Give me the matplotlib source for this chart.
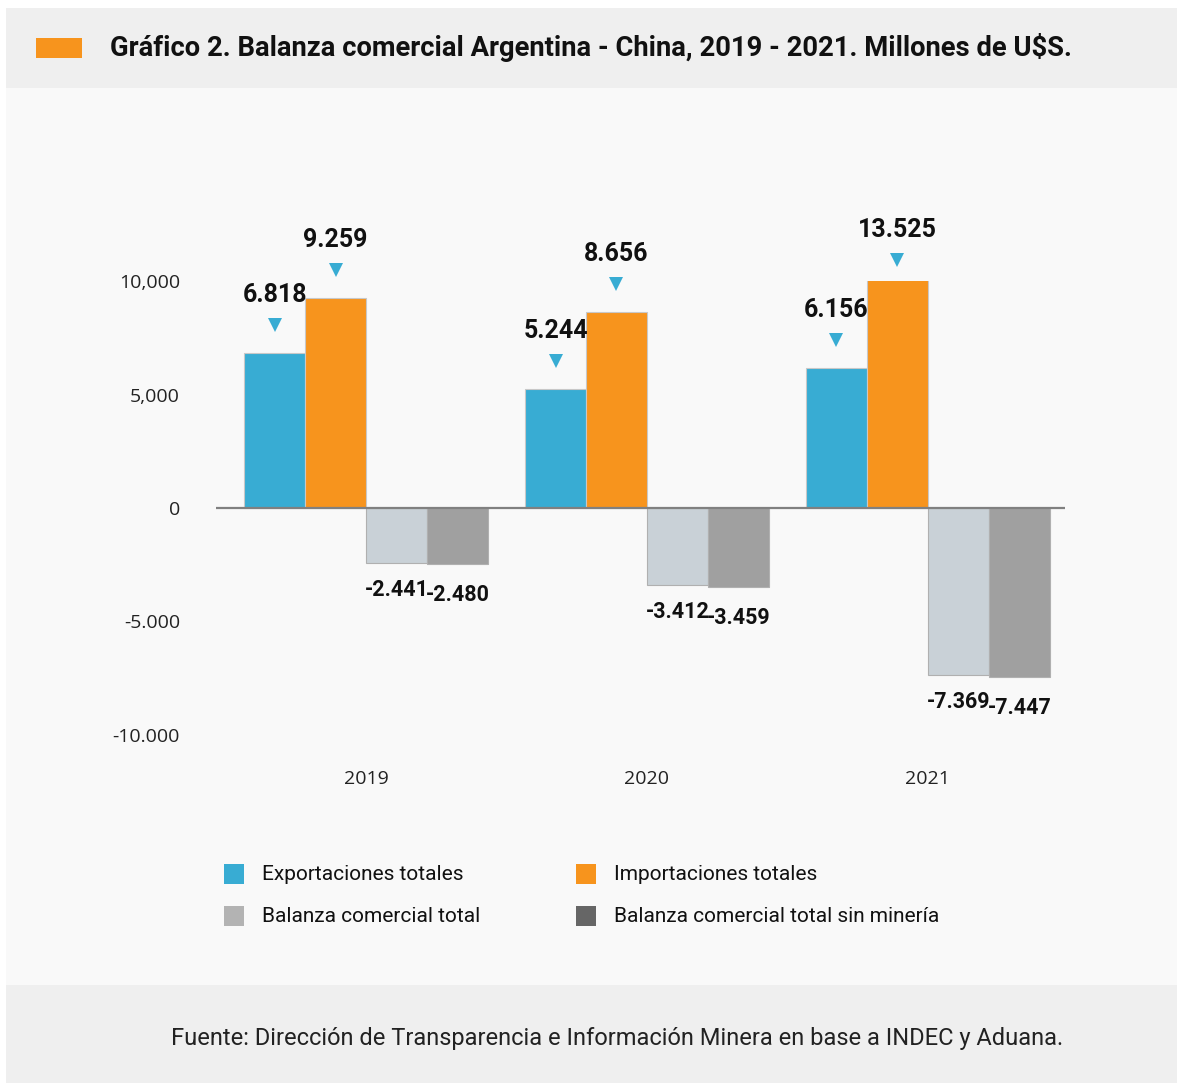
import matplotlib.pyplot as plt
import matplotlib.patches as mpatches
import matplotlib.transforms as mtransforms
import numpy as np

years = ["2019", "2020", "2021"]
exportaciones = [6818, 5244, 6156]
importaciones = [9259, 8656, 13525]
balanza = [-2441, -3412, -7369]
balanza_sin_mineria = [-2480, -3459, -7447]
label_export = ["6.818", "5.244", "6.156"]
label_import = ["9.259", "8.656", "13.525"]
label_balanza = ["-2.441", "-3.412", "-7.369"]
label_sin_min = ["-2.480", "-3.459", "-7.447"]
ytick_values = [10000, 5000, 0, -5000, -10000]
ytick_labels = ["10,000", "5,000", "0", "-5.000", "-10.000"]
series_names = ["Exportaciones totales", "Importaciones totales",
                "Balanza comercial total", "Balanza comercial total sin minería"]

blue = "#38acd3"
orange = "#f7941d"
light_grey = "#c9d1d7"
dark_grey = "#a0a0a0"
legend_colors = [blue, orange, "#b3b3b3", "#666666"]

W, H = 1177, 1085
fig = plt.figure(figsize=(W / 100, H / 100), dpi=100)
fig.patch.set_facecolor("white")

def fig_rect(x0, y0, x1, y1, color):
    # pixel coords from the top left
    fig.patches.append(mpatches.Rectangle((x0 / W, 1 - y1 / H), (x1 - x0) / W, (y1 - y0) / H,
                                          transform=fig.transFigure, facecolor=color,
                                          edgecolor="none", zorder=-10))

fig_rect(6, 8, W, 88, "#efefef")
fig_rect(6, 88, W, 985, "#f9f9f9")
fig_rect(6, 985, W, 1083, "#efefef")
fig_rect(36, 38, 82, 58, orange)

fig.text(110 / W, 1 - 47 / H, "Gráfico 2. Balanza comercial Argentina - China, 2019 - 2021. Millones de U$S.",
         fontsize=19.7, fontweight="bold", family=["Roboto", "DejaVu Sans"], color="#111111",
         va="center", ha="left")

fig.text(617 / W, 1 - 1038 / H, "Fuente: Dirección de Transparencia e Información Minera en base a INDEC y Aduana.",
         fontsize=17, family=["Roboto", "DejaVu Sans"], color="#222222",
         va="center", ha="center")

ax = fig.add_axes([216 / W, 1 - 735 / H, (1065 - 216) / W, (735 - 281) / H])
ax.set_facecolor("none")

x = np.arange(len(years))
w = 0.217
ax.bar(x - 1.5 * w, exportaciones, w, color=blue, edgecolor="#c8c8c8", linewidth=0.8)
ax.bar(x - 0.5 * w, importaciones, w, color=orange, edgecolor="#c8c8c8", linewidth=0.8)
ax.bar(x + 0.5 * w, balanza, w, color=light_grey, edgecolor="#b0b0b0", linewidth=0.8)
ax.bar(x + 1.5 * w, balanza_sin_mineria, w, color=dark_grey, edgecolor="#b0b0b0", linewidth=0.8)

ax.set_ylim(-10000, 10000)
ax.set_xlim(-0.534, 2.488)
ax.axhline(0, color="#808080", linewidth=1.6, zorder=3)

for s in ax.spines.values():
    s.set_visible(False)
ax.set_yticks(ytick_values)
ax.set_yticklabels(ytick_labels, fontsize=14, family=["Open Sans", "DejaVu Sans"], color="#222222")
ax.tick_params(axis="y", length=0, pad=26)
ax.set_xticks([])
for i, yr in enumerate(years):
    ax.annotate(yr, (x[i], -10000), xytext=(0, -32), textcoords="offset points",
                ha="center", va="center", fontsize=14, family=["Open Sans", "DejaVu Sans"],
                color="#222222", annotation_clip=False)

lab_font = dict(fontsize=18, fontweight="bold", family=["Roboto", "DejaVu Sans"],
                color="#111111", ha="center", va="center", annotation_clip=False)
top = ax.get_ylim()[1]
for vals, labs, off in [(exportaciones, label_export, -1.5), (importaciones, label_import, -0.5)]:
    for i, v in enumerate(vals):
        xc = x[i] + off * w
        h = min(v, top)
        gap = 21 if v > top else 28
        shift = mtransforms.ScaledTranslation(0, gap / 100, fig.dpi_scale_trans)
        ax.plot(xc, h, marker="v", markersize=10, color=blue, markeredgewidth=0, clip_on=False,
                transform=ax.transData + shift)
        ax.annotate(labs[i], (xc, h), xytext=(0, (gap + 30) * 0.72), textcoords="offset points", **lab_font)

neg_font = dict(lab_font)
neg_font["fontsize"] = 15.5
for vals, labs, off, dy in [(balanza, label_balanza, 0.5, 27), (balanza_sin_mineria, label_sin_min, 1.5, 31)]:
    for i, v in enumerate(vals):
        xc = x[i] + off * w
        ax.annotate(labs[i], (xc, v), xytext=(0, -dy * 0.72), textcoords="offset points", **neg_font)

# legend
leg_pos = [(224, 874), (576, 874), (224, 916), (576, 916)]
for (px, py), name, c in zip(leg_pos, series_names, legend_colors):
    fig_rect(px, py - 10, px + 20, py + 10, c)
    fig.text((px + 38) / W, 1 - py / H, name, fontsize=15, family=["Roboto", "DejaVu Sans"],
             color="#111111", va="center", ha="left")

fig.savefig("out.png", dpi=100, facecolor=fig.get_facecolor())
